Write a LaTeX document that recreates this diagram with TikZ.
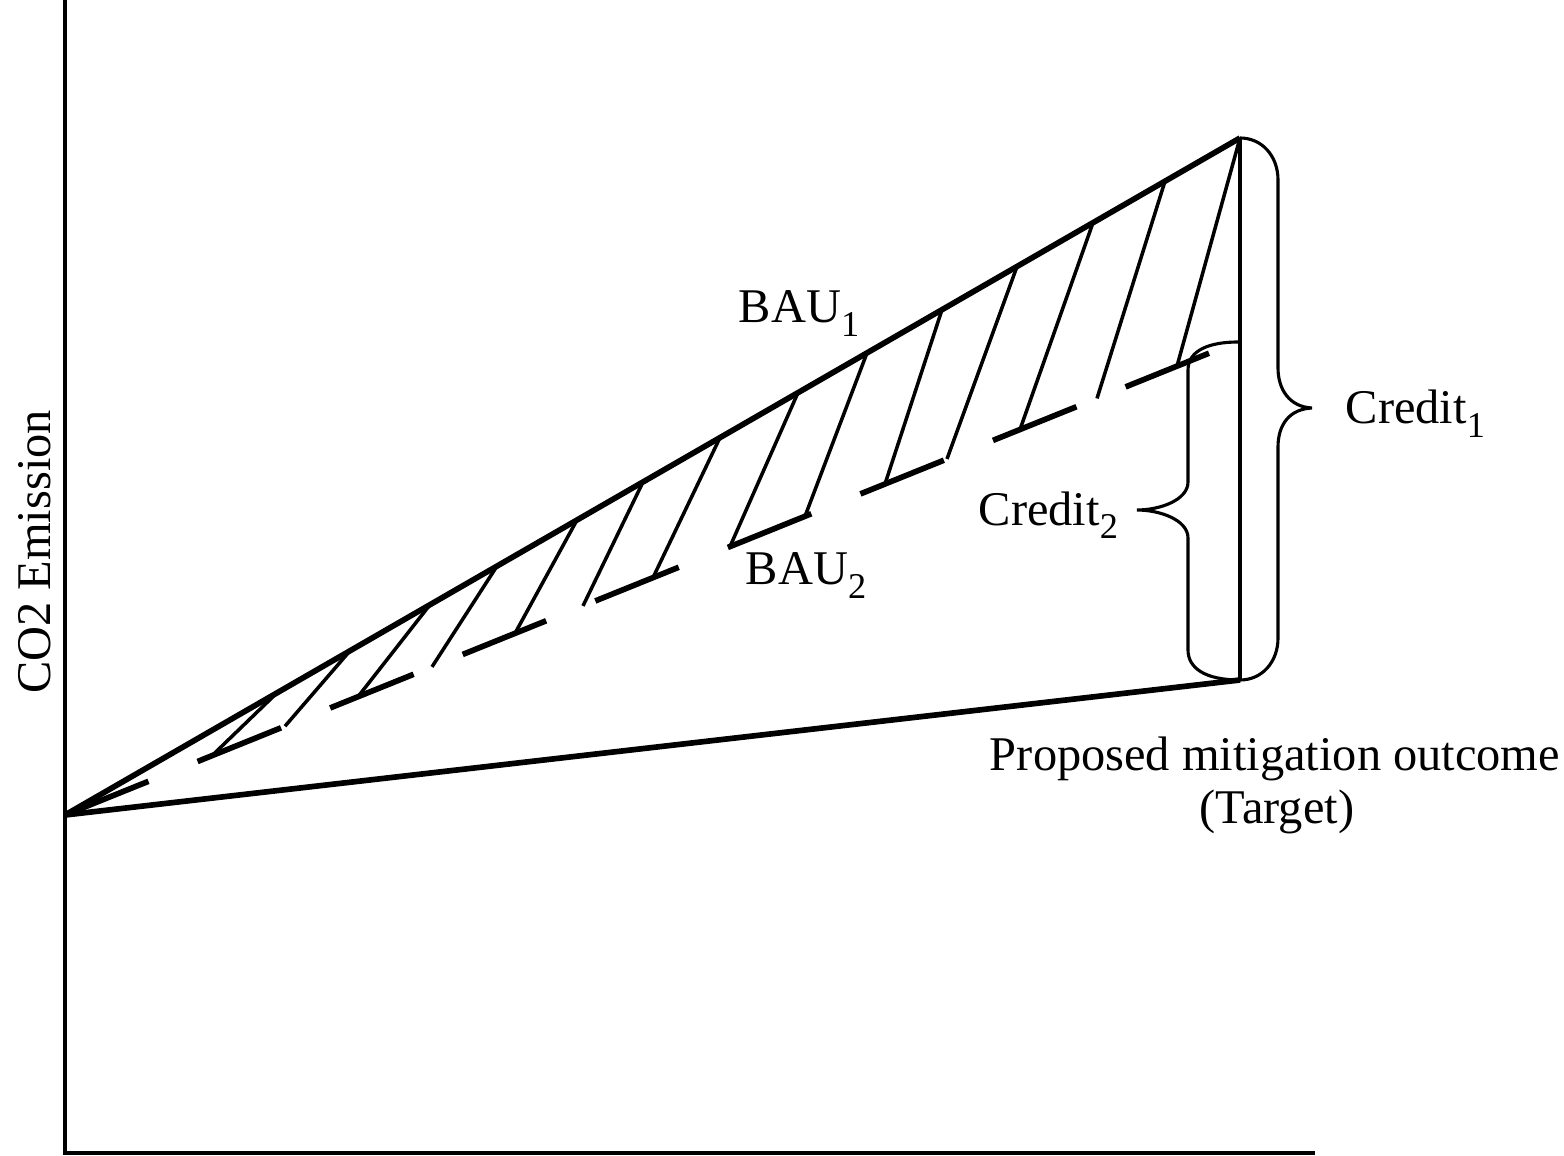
\documentclass[tikz,border=0pt]{standalone}
\usepackage{fontspec}
\setmainfont{Liberation Serif}
\usepackage{tikz}
\usetikzlibrary{calc}

\newcommand{\subidx}[1]{\raisebox{-0.28em}{\fontsize{9.3}{10}\selectfont #1}}

\begin{document}
\begin{tikzpicture}[x=0.009cm,y=-0.009cm,
  axis/.style={line width=0.8pt},
  bau/.style={line width=1.45pt},
  hatch/.style={line width=0.9pt},
  brc/.style={line width=0.8pt},
  lbl/.style={inner sep=0pt,font=\fontsize{12.4}{15}\selectfont}]
\useasboundingbox (0,0) rectangle (1564,1156);
\draw[axis] (65,0) -- (65,1153) -- (1315,1153);
\coordinate (O) at (65,815); \coordinate (A) at (1240,138);
\coordinate (B) at (1212,352); \coordinate (T) at (1240,680); \coordinate (C2) at (1238,342);
\draw[bau] (O) -- (A); \draw[bau] (O) -- (T);
\draw[bau,dash pattern=on 23.05pt off 13.57pt] (O) -- (B);
\draw[axis] (A) -- (T);
% hatching between BAU1 and BAU2
\foreach \a/\b in {277/212,350/285,430/358,497/432,577/515,643/583,720/653,798/730,867/805,942/885,1017/947,1093/1020,1165/1097,1240/1177}
  \draw[hatch] ($(O)!{(\a-65)/1175}!(A)$) -- ($(O)!{(\b-65)/1147}!(B)$);
% braces
\draw[brc] (A) .. controls (1262,138) and (1278,156) .. (1278,180) -- (1278,368)
  .. controls (1278,390) and (1290,407) .. (1312,408) .. controls (1290,409) and (1278,424) .. (1278,447)
  -- (1278,638) .. controls (1278,662) and (1262,680) .. (T);
\draw[brc] (C2) .. controls (1210,342) and (1188,350) .. (1188,370) -- (1188,482)
  .. controls (1188,500) and (1160,510) .. (1137,510) .. controls (1160,510) and (1188,520) .. (1188,538)
  -- (1188,650) .. controls (1188,668) and (1205,680) .. (T);
% labels
\node[lbl,anchor=base west] (bau1) at (738,323) {BAU\subidx{1}};
\node[lbl,anchor=base west] (bau2) at (745,585) {BAU\subidx{2}};
\node[lbl,anchor=base west] (cr1) at (1345,424) {Credit\subidx{1}};
\node[lbl,anchor=base west] (cr2) at (978,525) {Credit\subidx{2}};
\node[lbl,anchor=base] (prop) at (1275,770) {Proposed mitigation outcome};
\node[lbl,anchor=base] (targ) at (1277,823) {(Target)};
\node[lbl,anchor=base,rotate=90] (ylab) at (50,552) {CO2 Emission};
\end{tikzpicture}
\end{document}
